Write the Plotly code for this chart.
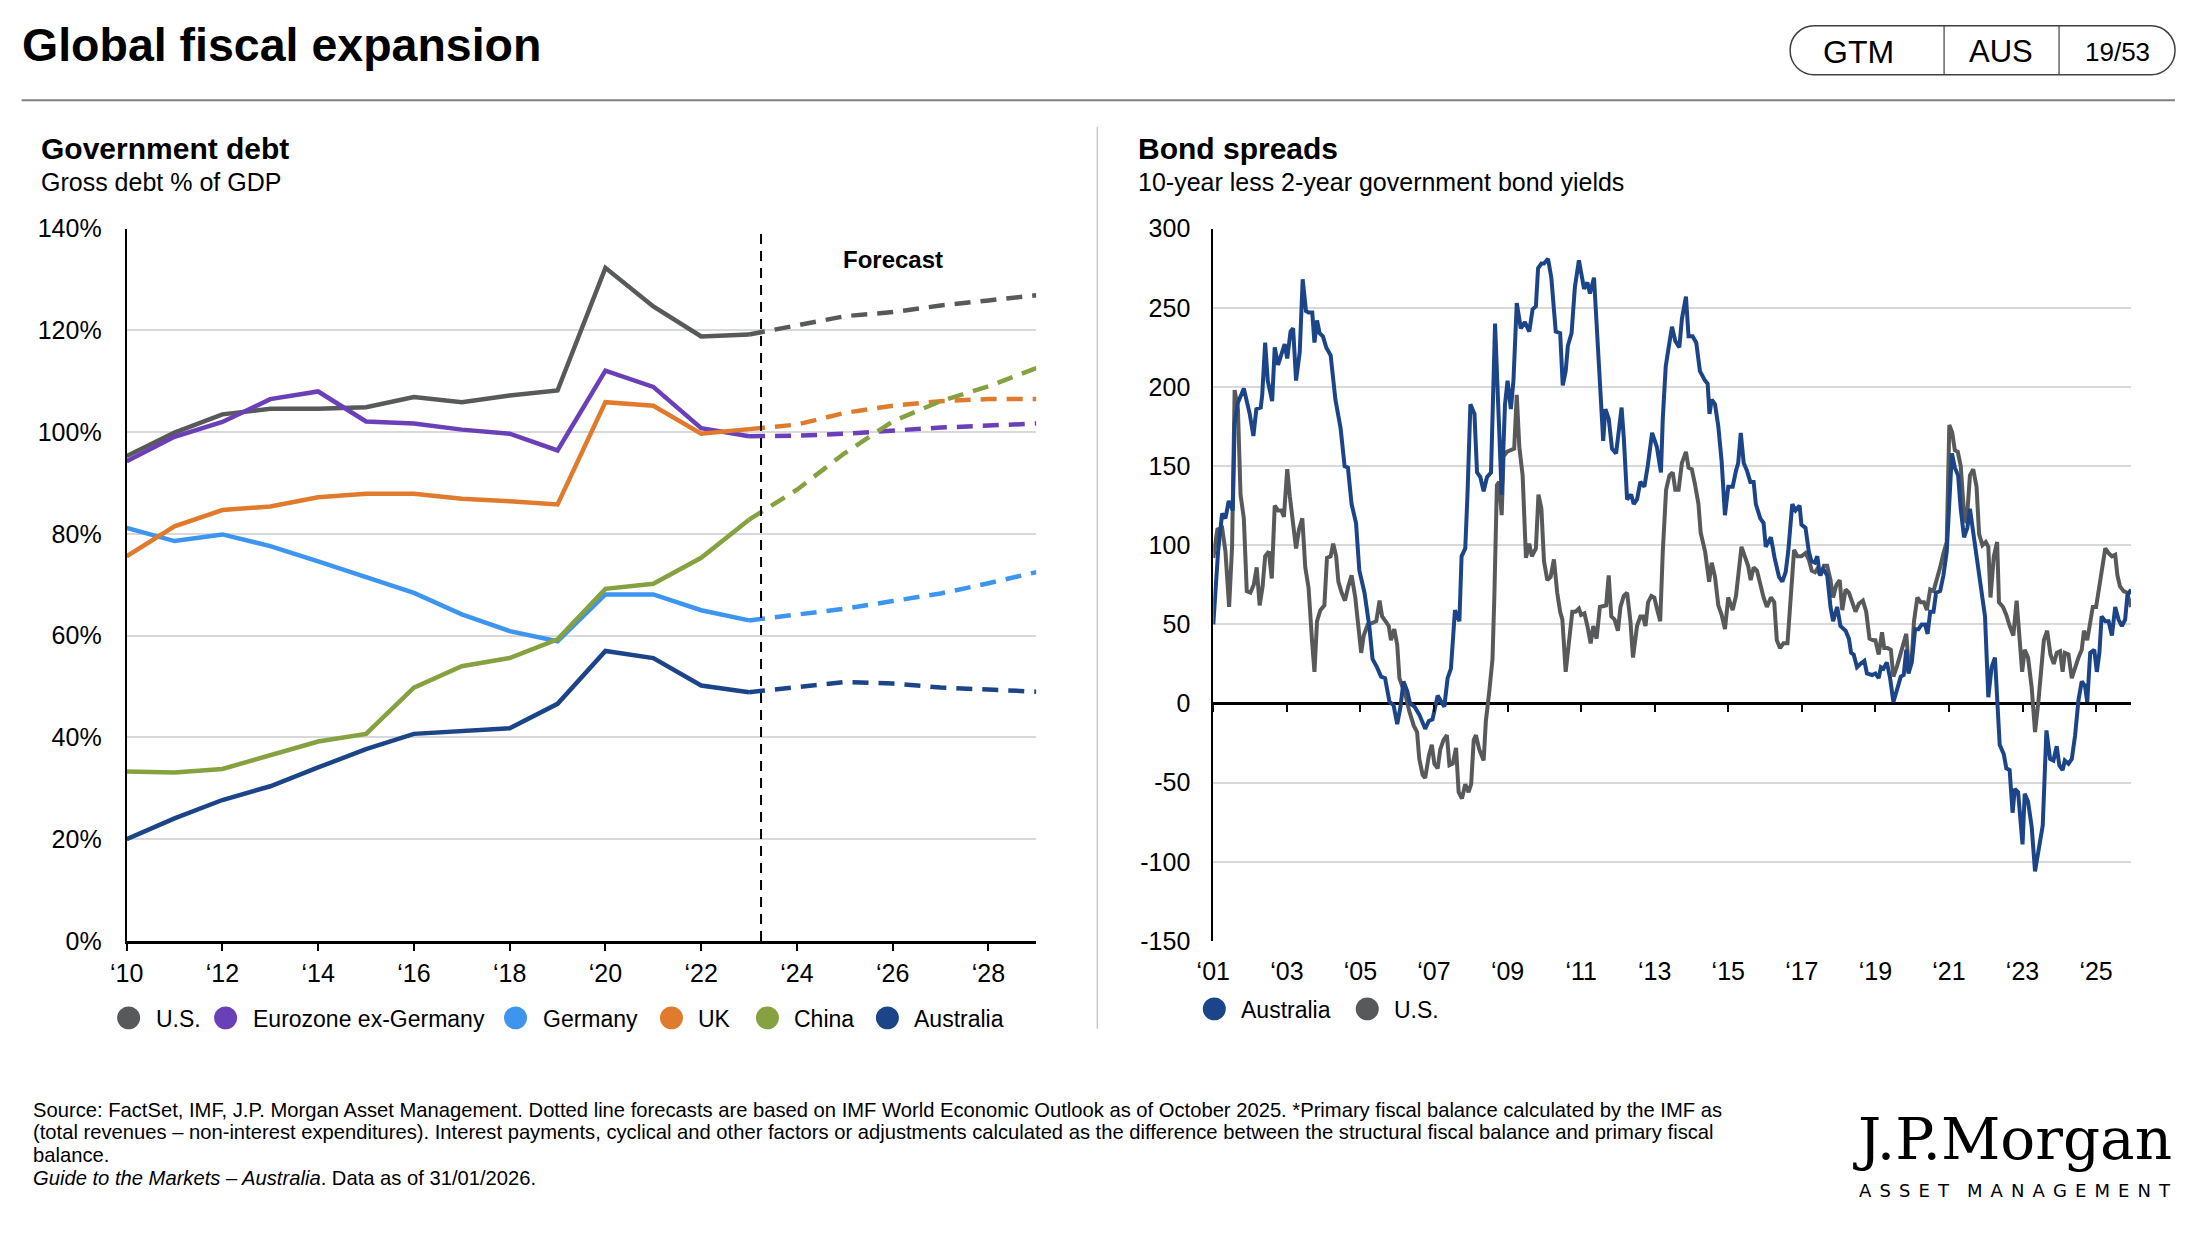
import plotly.graph_objects as go

# ---------------- data: Government debt (gross debt % of GDP) ----------------
years_actual = list(range(2010, 2024))
years_forecast = list(range(2023, 2030))
debt_names = ["U.S.", "Eurozone ex-Germany", "Germany", "UK", "China", "Australia"]
debt_colors = ["#58595b", "#6a40b8", "#3e95ef", "#e07a2c", "#86a13f", "#1b4588"]

us_debt = [95.3, 99.9, 103.5, 104.6, 104.6, 104.9, 106.9, 105.9, 107.2, 108.2, 132.3, 124.7, 118.8, 119.2]
us_debt_fc = [119.2, 121.1, 122.8, 123.6, 124.9, 125.9, 126.9]
ez_debt = [94.3, 99.1, 102.0, 106.5, 108.0, 102.1, 101.7, 100.5, 99.7, 96.4, 112.1, 108.9, 100.8, 99.2]
ez_debt_fc = [99.2, 99.3, 99.7, 100.4, 100.9, 101.3, 101.7]
de_debt = [81.2, 78.6, 79.9, 77.6, 74.6, 71.4, 68.4, 64.2, 60.9, 58.9, 68.1, 68.1, 65.0, 63.0]
de_debt_fc = [63.0, 64.2, 65.3, 66.8, 68.3, 70.3, 72.5]
uk_debt = [75.6, 81.5, 84.7, 85.4, 87.2, 87.9, 87.9, 86.9, 86.4, 85.8, 105.9, 105.2, 99.7, 100.6]
uk_debt_fc = [100.6, 101.5, 103.8, 105.2, 106.1, 106.5, 106.5]
cn_debt = [33.3, 33.1, 33.8, 36.4, 39.2, 40.7, 49.8, 54.0, 55.6, 59.3, 69.2, 70.2, 75.3, 82.8]
cn_debt_fc = [82.8, 88.7, 95.9, 102.1, 106.1, 109.0, 112.6]
au_debt = [20.0, 24.1, 27.7, 30.4, 34.1, 37.7, 40.7, 41.3, 41.8, 46.6, 57.0, 55.6, 50.2, 48.9]
au_debt_fc = [48.9, 50.0, 50.9, 50.6, 49.8, 49.4, 49.0]
debt_actual = [us_debt, ez_debt, de_debt, uk_debt, cn_debt, au_debt]
debt_fc = [us_debt_fc, ez_debt_fc, de_debt_fc, uk_debt_fc, cn_debt_fc, au_debt_fc]
forecast_split = 2023.25
debt_xticks = list(range(2010, 2029, 2))
debt_xlabels = ["\u201810", "\u201812", "\u201814", "\u201816", "\u201818", "\u201820", "\u201822", "\u201824",
                "\u201826", "\u201828"]
debt_yticks = [0, 20, 40, 60, 80, 100, 120, 140]
debt_ylabels = ["0%", "20%", "40%", "60%", "80%", "100%", "120%", "140%"]

# ---------------- data: Bond spreads (10y less 2y, bps) ----------------
au_spread_t = [2001.00, 2001.13, 2001.24, 2001.33, 2001.42, 2001.53, 2001.58, 2001.67, 2001.83, 2001.99,
               2002.09, 2002.17, 2002.29, 2002.33, 2002.41, 2002.48, 2002.60, 2002.67, 2002.76, 2002.83,
               2002.94, 2003.01, 2003.10, 2003.17, 2003.25, 2003.35, 2003.43, 2003.52, 2003.59, 2003.69,
               2003.75, 2003.82, 2003.89, 2003.98, 2004.07, 2004.19, 2004.32, 2004.46, 2004.57, 2004.66,
               2004.76, 2004.88, 2004.97, 2005.11, 2005.24, 2005.33, 2005.45, 2005.56, 2005.67, 2005.79,
               2005.90, 2006.00, 2006.09, 2006.17, 2006.27, 2006.35, 2006.47, 2006.60, 2006.76, 2006.86,
               2006.96, 2007.10, 2007.19, 2007.28, 2007.37, 2007.46, 2007.57, 2007.69, 2007.75, 2007.85,
               2007.91, 2007.99, 2008.10, 2008.17, 2008.26, 2008.35, 2008.44, 2008.55, 2008.66, 2008.75,
               2008.84, 2008.93, 2009.00, 2009.09, 2009.16, 2009.25, 2009.36, 2009.47, 2009.59, 2009.68,
               2009.77, 2009.83, 2009.92, 2009.99, 2010.10, 2010.19, 2010.31, 2010.43, 2010.50, 2010.58,
               2010.64, 2010.74, 2010.83, 2010.94, 2011.08, 2011.17, 2011.24, 2011.35, 2011.44, 2011.55,
               2011.60, 2011.66, 2011.75, 2011.84, 2011.95, 2012.10, 2012.16, 2012.25, 2012.36, 2012.43,
               2012.52, 2012.61, 2012.72, 2012.81, 2012.93, 2013.06, 2013.17, 2013.22, 2013.30, 2013.38,
               2013.47, 2013.56, 2013.67, 2013.74, 2013.85, 2013.92, 2014.03, 2014.13, 2014.23, 2014.37,
               2014.44, 2014.49, 2014.55, 2014.64, 2014.73, 2014.82, 2014.91, 2015.00, 2015.12, 2015.21,
               2015.27, 2015.34, 2015.42, 2015.51, 2015.60, 2015.69, 2015.75, 2015.87, 2015.96, 2016.02,
               2016.16, 2016.26, 2016.38, 2016.47, 2016.56, 2016.63, 2016.74, 2016.83, 2016.94, 2016.99,
               2017.10, 2017.19, 2017.26, 2017.35, 2017.42, 2017.49, 2017.58, 2017.69, 2017.78, 2017.85,
               2017.96, 2018.05, 2018.19, 2018.28, 2018.34, 2018.41, 2018.50, 2018.59, 2018.70, 2018.77,
               2018.91, 2019.00, 2019.09, 2019.15, 2019.22, 2019.31, 2019.40, 2019.49, 2019.58, 2019.69,
               2019.77, 2019.84, 2019.90, 2019.99, 2020.08, 2020.17, 2020.26, 2020.35, 2020.42, 2020.49,
               2020.58, 2020.65, 2020.76, 2020.85, 2020.94, 2021.01, 2021.08, 2021.16, 2021.25, 2021.32,
               2021.41, 2021.50, 2021.57, 2021.66, 2021.75, 2021.86, 2021.98, 2022.07, 2022.16, 2022.25,
               2022.38, 2022.49, 2022.56, 2022.65, 2022.73, 2022.79, 2022.88, 2023.00, 2023.06, 2023.15,
               2023.25, 2023.34, 2023.45, 2023.55, 2023.65, 2023.75, 2023.84, 2023.93, 2024.00, 2024.09,
               2024.15, 2024.25, 2024.34, 2024.43, 2024.52, 2024.61, 2024.70, 2024.76, 2024.84, 2024.95,
               2025.02, 2025.09, 2025.15, 2025.25, 2025.34, 2025.43, 2025.52, 2025.61, 2025.70, 2025.79,
               2025.85, 2025.95]
au_spread = [50, 96, 120, 117, 128, 122, 177, 190, 199, 183,
             169, 186, 187, 195, 228, 204, 191, 225, 214, 219,
             227, 218, 235, 237, 204, 222, 268, 248, 247, 247,
             228, 242, 234, 232, 225, 220, 192, 174, 150, 149,
             126, 114, 84, 70, 49, 28, 23, 17, 16, 1,
             -1, -13, -2, 14, 8, 0, -2, -7, -16, -11,
             -10, 5, 2, -2, 16, 22, 59, 52, 93, 98,
             132, 189, 183, 146, 143, 134, 143, 146, 240, 183,
             132, 189, 204, 186, 204, 253, 237, 241, 235, 249,
             251, 275, 278, 278, 281, 269, 235, 234, 201, 210,
             226, 234, 263, 280, 262, 266, 259, 269, 234, 186,
             166, 186, 180, 161, 158, 187, 168, 129, 132, 126,
             129, 140, 137, 150, 171, 162, 146, 180, 213, 225,
             238, 229, 225, 243, 257, 232, 232, 228, 210, 204,
             202, 183, 192, 189, 175, 153, 119, 137, 137, 147,
             152, 171, 152, 147, 140, 140, 126, 117, 114, 99,
             105, 92, 80, 77, 83, 96, 126, 122, 125, 113,
             111, 96, 90, 89, 93, 81, 85, 81, 61, 52,
             61, 49, 46, 41, 32, 31, 23, 25, 27, 19,
             18, 19, 16, 23, 22, 26, 16, 1, 8, 17,
             18, 34, 19, 26, 47, 47, 50, 50, 44, 58,
             58, 70, 71, 81, 96, 126, 158, 149, 144, 123,
             105, 111, 123, 108, 93, 78, 55, 4, 23, 29,
             -26, -32, -41, -42, -69, -54, -56, -89, -57, -62,
             -78, -106, -89, -77, -17, -35, -36, -27, -39, -42,
             -36, -38, -35, -20, 2, 14, 11, 1, 32, 34,
             20, 32, 55, 52, 52, 43, 61, 53, 49, 53,
             68, 72]

us_spread_t = [2001.00, 2001.11, 2001.24, 2001.33, 2001.43, 2001.51, 2001.58, 2001.67, 2001.74, 2001.83,
               2001.91, 2002.01, 2002.10, 2002.18, 2002.26, 2002.34, 2002.41, 2002.51, 2002.59, 2002.67,
               2002.76, 2002.85, 2002.92, 2003.01, 2003.08, 2003.16, 2003.25, 2003.33, 2003.42, 2003.50,
               2003.59, 2003.68, 2003.75, 2003.82, 2003.91, 2004.02, 2004.09, 2004.19, 2004.26, 2004.34,
               2004.40, 2004.49, 2004.58, 2004.67, 2004.76, 2004.86, 2004.93, 2005.02, 2005.09, 2005.20,
               2005.33, 2005.43, 2005.52, 2005.59, 2005.68, 2005.77, 2005.83, 2005.92, 2006.00, 2006.06,
               2006.15, 2006.24, 2006.33, 2006.45, 2006.54, 2006.60, 2006.69, 2006.76, 2006.86, 2006.94,
               2007.01, 2007.10, 2007.17, 2007.26, 2007.35, 2007.42, 2007.51, 2007.60, 2007.67, 2007.76,
               2007.85, 2007.94, 2008.01, 2008.08, 2008.14, 2008.23, 2008.35, 2008.41, 2008.50, 2008.59,
               2008.64, 2008.71, 2008.77, 2008.84, 2008.89, 2008.98, 2009.07, 2009.18, 2009.25, 2009.32,
               2009.41, 2009.50, 2009.59, 2009.66, 2009.77, 2009.84, 2009.92, 2009.99, 2010.08, 2010.17,
               2010.26, 2010.35, 2010.43, 2010.49, 2010.58, 2010.67, 2010.76, 2010.85, 2010.94, 2011.00,
               2011.09, 2011.17, 2011.26, 2011.33, 2011.42, 2011.51, 2011.62, 2011.68, 2011.75, 2011.82,
               2011.91, 2012.00, 2012.07, 2012.16, 2012.25, 2012.34, 2012.41, 2012.52, 2012.61, 2012.68,
               2012.75, 2012.82, 2012.91, 2012.99, 2013.06, 2013.15, 2013.22, 2013.31, 2013.40, 2013.49,
               2013.56, 2013.65, 2013.74, 2013.85, 2013.92, 2014.01, 2014.10, 2014.19, 2014.25, 2014.37,
               2014.48, 2014.55, 2014.64, 2014.73, 2014.82, 2014.91, 2015.00, 2015.12, 2015.21, 2015.30,
               2015.36, 2015.45, 2015.54, 2015.61, 2015.69, 2015.78, 2015.87, 2015.96, 2016.05, 2016.16,
               2016.25, 2016.32, 2016.41, 2016.50, 2016.61, 2016.70, 2016.79, 2016.88, 2016.99, 2017.10,
               2017.19, 2017.27, 2017.36, 2017.42, 2017.51, 2017.60, 2017.69, 2017.78, 2017.85, 2017.94,
               2018.03, 2018.10, 2018.19, 2018.28, 2018.37, 2018.46, 2018.55, 2018.66, 2018.75, 2018.84,
               2018.94, 2019.00, 2019.09, 2019.18, 2019.24, 2019.33, 2019.42, 2019.49, 2019.58, 2019.68,
               2019.77, 2019.84, 2019.90, 2019.99, 2020.05, 2020.14, 2020.23, 2020.32, 2020.40, 2020.49,
               2020.58, 2020.67, 2020.76, 2020.85, 2020.94, 2021.01, 2021.09, 2021.16, 2021.24, 2021.32,
               2021.41, 2021.48, 2021.57, 2021.66, 2021.75, 2021.82, 2021.91, 2022.00, 2022.07, 2022.13,
               2022.22, 2022.31, 2022.36, 2022.47, 2022.56, 2022.65, 2022.75, 2022.84, 2022.91, 2022.99,
               2023.06, 2023.15, 2023.25, 2023.34, 2023.43, 2023.52, 2023.58, 2023.67, 2023.76, 2023.85,
               2023.93, 2024.02, 2024.09, 2024.15, 2024.25, 2024.34, 2024.43, 2024.52, 2024.61, 2024.67,
               2024.76, 2024.84, 2024.91, 2025.00, 2025.09, 2025.15, 2025.25, 2025.34, 2025.43, 2025.52,
               2025.58, 2025.65, 2025.75, 2025.84, 2025.95]
us_spread = [92, 110, 111, 96, 61, 99, 198, 186, 132, 117,
             71, 70, 75, 86, 62, 74, 93, 96, 79, 125,
             122, 122, 118, 148, 131, 117, 98, 110, 117, 86,
             73, 41, 20, 52, 59, 62, 92, 93, 101, 93,
             77, 70, 65, 74, 81, 67, 53, 32, 43, 50,
             51, 52, 65, 55, 52, 49, 40, 47, 37, 16,
             10, 4, -5, -14, -18, -35, -45, -47, -33, -26,
             -38, -41, -29, -23, -20, -39, -38, -28, -56, -60,
             -51, -56, -51, -23, -20, -29, -36, -11, 7, 28,
             67, 138, 140, 119, 156, 159, 160, 161, 195, 162,
             144, 92, 101, 93, 98, 132, 123, 90, 78, 80,
             91, 70, 58, 53, 20, 40, 58, 58, 60, 56,
             57, 49, 38, 49, 41, 61, 62, 62, 81, 55,
             53, 46, 61, 68, 70, 52, 29, 49, 55, 55,
             49, 64, 68, 67, 60, 52, 96, 135, 144, 146,
             135, 135, 152, 159, 149, 148, 138, 126, 108, 96,
             77, 89, 80, 62, 56, 47, 67, 59, 68, 84,
             99, 93, 87, 78, 86, 84, 75, 67, 61, 67,
             64, 40, 35, 38, 38, 70, 97, 93, 93, 95,
             91, 84, 83, 85, 81, 87, 87, 78, 67, 75,
             78, 59, 72, 70, 64, 58, 63, 65, 58, 41,
             40, 40, 31, 45, 35, 35, 34, 17, 23, 31,
             37, 44, 25, 29, 52, 67, 64, 64, 59, 72,
             71, 78, 86, 95, 102, 176, 171, 160, 159, 150,
             120, 114, 144, 148, 137, 107, 100, 102, 99, 67,
             93, 102, 64, 61, 56, 49, 43, 65, 43, 20,
             34, 29, 10, -18, 1, 22, 40, 46, 31, 25,
             32, 33, 20, 32, 31, 16, 23, 29, 34, 46,
             40, 50, 61, 61, 74, 86, 98, 95, 93, 94,
             81, 74, 71, 70, 61]
spread_names = ["Australia", "U.S."]
spread_colors = ["#1b4588", "#58595b"]
spread_xticks = list(range(2001, 2026, 2))
spread_xlabels = ["\u201801", "\u201803", "\u201805", "\u201807", "\u201809", "\u201811", "\u201813",
                  "\u201815", "\u201817", "\u201819", "\u201821", "\u201823", "\u201825"]
spread_yticks = [-150, -100, -50, 0, 50, 100, 150, 200, 250, 300]
spread_ylabels = ["-150", "-100", "-50", "0", "50", "100", "150", "200", "250", "300"]

# ---------------- layout helpers (target pixel -> paper) ----------------
PAGE_W, PAGE_H = 2196, 1234
OFF = 8                      # default page margin around the figure
W, H = PAGE_W - 2 * OFF, PAGE_H - 2 * OFF
# correction for the small shift/scale seen between requested and photographed positions
SX, OXC = 0.9925, 16.4
SY, OYC = 0.978, 13.3
def X(x):
    return (x - OXC) / SX
def Y(y):
    return (y - OYC) / SY
def px(x):
    return (X(x) - OFF) / W
def py(y):
    return 1 - (Y(y) - OFF) / H

FONT = "Liberation Sans, Arial, Helvetica, sans-serif"
GRID = "#d9d9d9"

fig = go.Figure()

# Government debt lines
for name, col, ya, yf in zip(debt_names, debt_colors, debt_actual, debt_fc):
    fig.add_trace(go.Scatter(x=years_actual, y=ya, mode="lines", name=name,
                             line=dict(color=col, width=4.5), xaxis="x", yaxis="y",
                             showlegend=False))
    fig.add_trace(go.Scatter(x=years_forecast, y=yf, mode="lines", name=name + " forecast",
                             line=dict(color=col, width=4.5, dash="16px,10px"), xaxis="x", yaxis="y",
                             showlegend=False))

# Bond spread lines (U.S. underneath, Australia on top)
fig.add_trace(go.Scatter(x=us_spread_t, y=us_spread, mode="lines", name="U.S.",
                         line=dict(color=spread_colors[1], width=4), xaxis="x2", yaxis="y2",
                         showlegend=False))
fig.add_trace(go.Scatter(x=au_spread_t, y=au_spread, mode="lines", name="Australia",
                         line=dict(color=spread_colors[0], width=4), xaxis="x2", yaxis="y2",
                         showlegend=False))
# helper trace so the zero-line tick axis is drawn
fig.add_trace(go.Scatter(x=[None], y=[None], xaxis="x3", yaxis="y2", showlegend=False, hoverinfo="skip"))

plot_top, plot_bot = 228, 941
left_x0, left_x1 = 126, 1036
right_x0, right_x1 = 1213, 2131
zero_px = plot_top + (300 - 0) / 450 * (plot_bot - plot_top)

tickfont = dict(family=FONT, size=25, color="#000000")

fig.update_layout(
    width=W, height=H, margin=dict(l=0, r=0, t=0, b=0, pad=0),
    paper_bgcolor="white", plot_bgcolor="white",
    font=dict(family=FONT, color="#000000"),
    showlegend=False,
    xaxis=dict(domain=[px(left_x0), px(left_x1)], range=[2010, 2029], anchor="y",
               tickmode="array", tickvals=debt_xticks, ticktext=debt_xlabels,
               ticks="outside", ticklen=7, tickwidth=2, tickcolor="#000000",
               showline=True, linecolor="#000000", linewidth=3, showgrid=False, zeroline=False,
               tickfont=tickfont, ticklabelstandoff=1),
    yaxis=dict(domain=[py(plot_bot), py(plot_top)], range=[0, 140], anchor="x",
               tickmode="array", tickvals=debt_yticks, ticktext=debt_ylabels,
               showgrid=True, gridcolor=GRID, gridwidth=2, zeroline=False,
               showline=True, linecolor="#000000", linewidth=2, ticks="",
               tickfont=tickfont, ticklabelstandoff=18),
    xaxis2=dict(domain=[px(right_x0), px(right_x1)], range=[2001, 2025.95], anchor="y2",
                tickmode="array", tickvals=spread_xticks, ticktext=spread_xlabels,
                ticks="", showline=False, showgrid=False, zeroline=False,
                tickfont=tickfont, ticklabelstandoff=13),
    yaxis2=dict(domain=[py(plot_bot), py(plot_top)], range=[-150, 300], anchor="x2",
                tickmode="array", tickvals=spread_yticks, ticktext=spread_ylabels,
                showgrid=True, gridcolor=GRID, gridwidth=2,
                zeroline=True, zerolinecolor="#000000", zerolinewidth=2.5,
                showline=True, linecolor="#000000", linewidth=2, ticks="",
                tickfont=tickfont, ticklabelstandoff=16),
    xaxis3=dict(overlaying="x2", anchor="free", position=py(zero_px), range=[2001, 2025.95],
                tickmode="array", tickvals=spread_xticks, showticklabels=False,
                ticks="outside", ticklen=7, tickwidth=2, tickcolor="#000000",
                showline=False, showgrid=False, zeroline=False),
)

shapes = []
# forecast divider
shapes.append(dict(type="line", xref="x", yref="y", x0=forecast_split, x1=forecast_split, y0=0, y1=140,
                   line=dict(color="#000000", width=2, dash="10px,7px")))
# header rule and panel divider
shapes.append(dict(type="line", xref="paper", yref="paper", x0=px(21), x1=px(2175), y0=py(99.5), y1=py(99.5),
                   line=dict(color="#808080", width=2)))
shapes.append(dict(type="line", xref="paper", yref="paper", x0=px(1097), x1=px(1097), y0=py(126), y1=py(1029),
                   line=dict(color="#c8c8c8", width=1.5)))

# rounded header box
def rounded_rect(x0, y0, x1, y1, r):
    k = 0.5523 * r
    pts = [
        f"M{px(x0 + r)},{py(y0)}",
        f"L{px(x1 - r)},{py(y0)}",
        f"C{px(x1 - r + k)},{py(y0)} {px(x1)},{py(y0 + r - k)} {px(x1)},{py(y0 + r)}",
        f"L{px(x1)},{py(y1 - r)}",
        f"C{px(x1)},{py(y1 - r + k)} {px(x1 - r + k)},{py(y1)} {px(x1 - r)},{py(y1)}",
        f"L{px(x0 + r)},{py(y1)}",
        f"C{px(x0 + r - k)},{py(y1)} {px(x0)},{py(y1 - r + k)} {px(x0)},{py(y1 - r)}",
        f"L{px(x0)},{py(y0 + r)}",
        f"C{px(x0)},{py(y0 + r - k)} {px(x0 + r - k)},{py(y0)} {px(x0 + r)},{py(y0)}",
        "Z",
    ]
    return " ".join(pts)

shapes.append(dict(type="path", xref="paper", yref="paper", path=rounded_rect(1790, 25, 2175, 74, 24),
                   line=dict(color="#404040", width=1.5), fillcolor="rgba(0,0,0,0)"))
for xd in (1944, 2059):
    shapes.append(dict(type="line", xref="paper", yref="paper", x0=px(xd), x1=px(xd), y0=py(25), y1=py(74),
                       line=dict(color="#404040", width=1.2)))

annotations = []
def txt(x, y, text, size, xanchor="left", bold=False, family=FONT, color="#000000"):
    t = f"<b>{text}</b>" if bold else text
    annotations.append(dict(xref="paper", yref="paper", x=px(x), y=py(y), text=t, showarrow=False,
                            xanchor=xanchor, yanchor="middle", align="left",
                            font=dict(family=family, size=size, color=color)))

# Titles
txt(19, 44, "Global fiscal expansion", 46.5, bold=True)
txt(1858, 51, "GTM", 32, xanchor="center")
txt(2001, 51, "AUS", 31, xanchor="center")
txt(2117, 51, "19/53", 26, xanchor="center")
txt(38, 148, "Government debt", 30, bold=True)
txt(38, 181, "Gross debt % of GDP", 25)
txt(1136, 148, "Bond spreads", 30, bold=True)
txt(1136, 181, "10-year less 2-year government bond yields", 25)

annotations.append(dict(xref="x", yref="y", x=2026, y=134, text="<b>Forecast</b>", showarrow=False,
                        xanchor="center", yanchor="middle", font=dict(family=FONT, size=24, color="#000000")))

# Custom legends (circle + label)
def legend_item(cx, cy, color, label):
    r = 11.5
    shapes.append(dict(type="circle", xref="paper", yref="paper",
                       x0=px(cx - r), x1=px(cx + r), y0=py(cy + r), y1=py(cy - r),
                       fillcolor=color, line=dict(width=0)))
    txt(cx + 25, cy + 1, label, 23)

left_legend_x = [128, 225, 515, 671, 767, 887]
for lx, col, name in zip(left_legend_x, debt_colors, debt_names):
    legend_item(lx, 1018, col, name)
right_legend_x = [1214, 1367]
for lx, col, name in zip(right_legend_x, spread_colors, spread_names):
    legend_item(lx, 1009, col, name)

# Footer
footer_lines = [
    "Source: FactSet, IMF, J.P. Morgan Asset Management. Dotted line forecasts are based on IMF World Economic Outlook as of October 2025. *Primary fiscal balance calculated by the IMF as",
    "(total revenues – non-interest expenditures). Interest payments, cyclical and other factors or adjustments calculated as the difference between the structural fiscal balance and primary fiscal",
    "balance.",
    "<i>Guide to the Markets – Australia</i>. Data as of 31/01/2026.",
]
for i, line in enumerate(footer_lines):
    txt(30, 1110 + i * 22.7, line, 20.2)

# Logo text
txt(2174, 1139, "J.P.Morgan", 58, xanchor="right", family="DejaVu Serif, Liberation Serif, serif")
logo_sub = "\u2002\u2002".join("\u2005\u2009".join(list(w)) for w in ["ASSET", "MANAGEMENT"])
txt(2173, 1191, logo_sub, 18, xanchor="right", family="DejaVu Sans, Liberation Sans, sans-serif")

fig.update_layout(shapes=shapes, annotations=annotations)

fig.write_html("out.html", include_plotlyjs=True, full_html=True,
               config={"displayModeBar": False})
